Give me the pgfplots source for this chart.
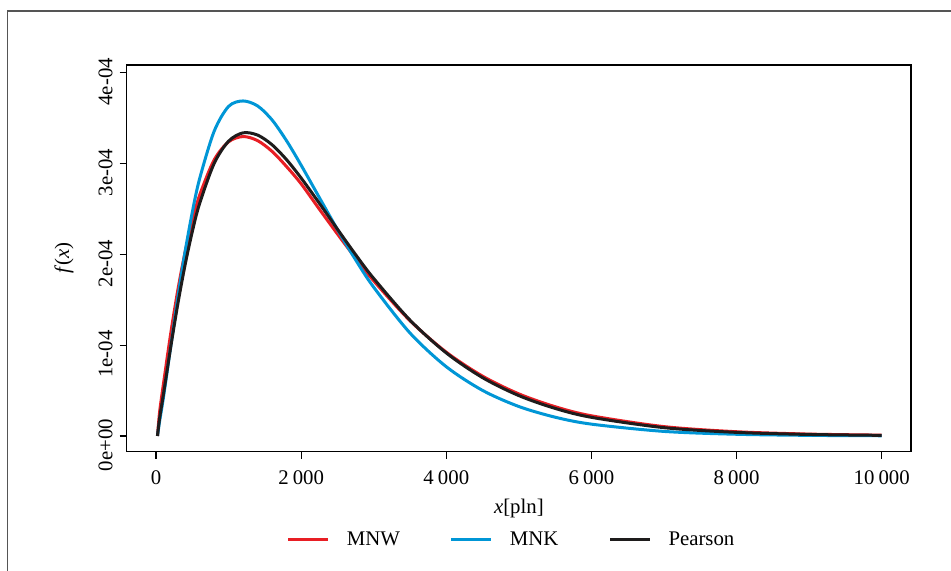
\documentclass[border=0pt]{standalone}
\usepackage{pgfplots}
\pgfplotsset{compat=1.18}
\usepackage{fontspec}
\setmainfont{Liberation Serif}
\definecolor{cW}{RGB}{232,30,36}
\definecolor{cK}{RGB}{0,150,214}
\definecolor{cP}{RGB}{30,28,28}
\definecolor{frm}{RGB}{85,85,85}
\begin{document}
\begin{tikzpicture}[font=\fontsize{10.4}{12.5}\selectfont]
\useasboundingbox (0,0) rectangle (475.5pt,285.5pt);
\draw[frm, line width=0.7pt] (3.85pt,0pt) -- (3.85pt,280pt) -- (475.5pt,280pt);
\begin{axis}[
  at={(63.35pt,59.65pt)}, anchor=south west,
  width=392.15pt, height=193.35pt, scale only axis,
  xmin=-404, xmax=10404, ymin=-0.173e-4, ymax=4.086e-4,
  axis line style={line width=0.65pt},
  tick style={line width=0.65pt, black},
  major tick length=3.5pt, tick align=outside,
  xtick pos=bottom, ytick pos=left,
  scaled ticks=false,
  xtick={0,2000,4000,6000,8000,10000},
  xticklabels={0,2\hspace{0.2em}000,4\hspace{0.2em}000,6\hspace{0.2em}000,8\hspace{0.2em}000,10\hspace{0.2em}000},
  xticklabel style={yshift=-2.5pt},
  ytick={0,1e-4,2e-4,3e-4,4e-4},
  yticklabels={0e+00,1e-04,2e-04,3e-04,4e-04},
  yticklabel style={rotate=90, anchor=south, xshift=-4.5pt},
  xlabel={\textit{x}[pln]},
  ylabel={\textit{f}(\textit{x})},
  xlabel style={at={(axis description cs:0.5,-0.148)}, anchor=center},
  ylabel style={at={(axis description cs:-0.080,0.5)}, anchor=center, rotate=0},
  legend columns=3,
  legend style={at={(axis description cs:0.492,-0.228)}, anchor=center, draw=none, fill=none,
    /tikz/every odd column/.append style={column sep=6.5pt},
    /tikz/every even column/.append style={column sep=23pt}},
  legend image code/.code={\draw[#1] (0pt,0pt) -- (20pt,0pt);},
]
\addplot[cW, line width=1.5pt, smooth] table {
x y
20 0
50 2.682e-5
100 5.602e-5
200 1.116e-4
300 1.605e-4
400 2.023e-4
500 2.369e-4
600 2.650e-4
800 3.039e-4
1000 3.240e-4
1200 3.298e-4
1400 3.253e-4
1600 3.134e-4
1800 2.966e-4
2000 2.777e-4
2250 2.499e-4
2500 2.225e-4
2750 1.959e-4
3000 1.708e-4
3500 1.270e-4
4000 0.9229e-4
4500 0.6589e-4
5000 0.4636e-4
5500 0.3226e-4
6000 0.2224e-4
7000 0.1033e-4
8000 0.0469e-4
9000 0.0209e-4
10000 0.0092e-4
};
\addlegendentry{MNW}
\addplot[cK, line width=1.5pt, smooth] table {
x y
20 0
50 1.660e-5
100 4.130e-5
200 9.699e-5
300 1.523e-4
400 2.027e-4
500 2.465e-4
600 2.831e-4
800 3.354e-4
1000 3.630e-4
1200 3.690e-4
1400 3.635e-4
1600 3.480e-4
1800 3.250e-4
2000 2.982e-4
2250 2.627e-4
2500 2.274e-4
2750 1.941e-4
3000 1.638e-4
3500 1.134e-4
4000 0.7628e-4
4500 0.5020e-4
5000 0.3246e-4
5500 0.2070e-4
6000 0.1305e-4
7000 0.0504e-4
8000 0.0189e-4
9000 0.0069e-4
10000 0.0025e-4
};
\addlegendentry{MNK}
\addplot[cP, line width=1.5pt, smooth] table {
x y
20 0
50 1.985e-5
100 4.49e-5
200 9.66e-5
300 1.452e-4
400 1.882e-4
500 2.251e-4
600 2.558e-4
800 3.000e-4
1000 3.247e-4
1200 3.339e-4
1400 3.314e-4
1600 3.207e-4
1800 3.042e-4
2000 2.841e-4
2250 2.564e-4
2500 2.278e-4
2750 1.998e-4
3000 1.735e-4
3500 1.276e-4
4000 0.9145e-4
4500 0.6425e-4
5000 0.4447e-4
5500 0.3038e-4
6000 0.2055e-4
7000 0.0916e-4
8000 0.0398e-4
9000 0.0170e-4
10000 0.0071e-4
};
\addlegendentry{Pearson}
\end{axis}
\end{tikzpicture}
\end{document}
